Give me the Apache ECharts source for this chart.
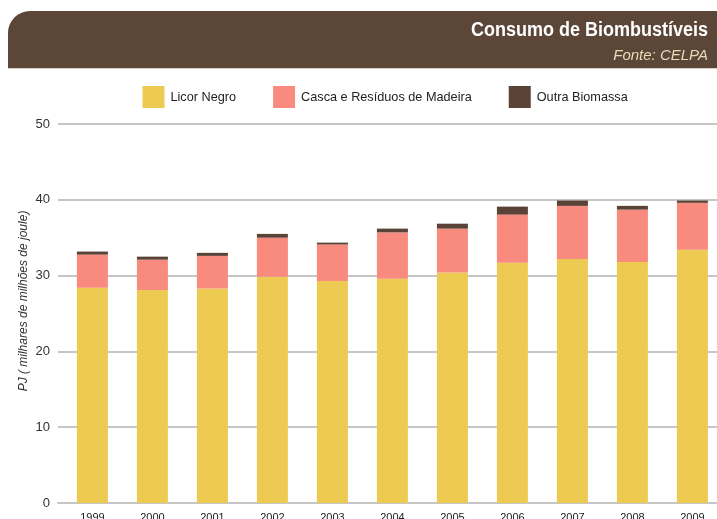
<!DOCTYPE html>
<html>
<head>
<meta charset="utf-8">
<script src="https://cdn.jsdelivr.net/npm/echarts@6/dist/echarts.min.js"></script>
<style>
  html, body { margin: 0; padding: 0; background: #ffffff; }
  #chart { width: 717px; height: 519px; }
</style>
</head>
<body>
<div id="chart"></div>
<script>
// Consumo de biombustíveis por ano (PJ)
var anos = ['1999', '2000', '2001', '2002', '2003', '2004', '2005', '2006', '2007', '2008', '2009'];
var licorNegro = [28.4, 28.1, 28.3, 29.85, 29.3, 29.6, 30.4, 31.7, 32.2, 31.8, 33.4];
var cascaResiduos = [4.37, 4.0, 4.3, 5.15, 4.8, 6.1, 5.8, 6.35, 7.0, 6.9, 6.2];
var outraBiomassa = [0.4, 0.4, 0.4, 0.5, 0.25, 0.5, 0.65, 1.05, 0.7, 0.5, 0.3];
var yTicks = { min: 0, max: 50, interval: 10 };

var nomes = ['Licor Negro', 'Casca e Resíduos de Madeira', 'Outra Biomassa'];
var cores = ['#EDCA52', '#F88A7E', '#5A4336'];
var fonte = '"Liberation Sans", Arial, sans-serif';

var chart = echarts.init(document.getElementById('chart'), null, { renderer: 'canvas' });

var plotTop = 124;
var plotBottom = 16;

chart.setOption({
  animation: false,
  textStyle: { fontFamily: fonte },
  graphic: [
    {
      type: 'rect',
      shape: { x: 8, y: 11, width: 720, height: 57, r: [22, 0, 0, 0] },
      style: { fill: '#5B4638' }
    },
    {
      type: 'rect',
      shape: { x: 8, y: 68, width: 720, height: 1 },
      style: { fill: '#d4cfcb' }
    },
    {
      // título em negrito, ligeiramente condensado
      type: 'text',
      x: 708,
      y: 30,
      scaleX: 0.9,
      style: {
        text: 'Consumo de Biombustíveis',
        fill: '#ffffff',
        align: 'right',
        verticalAlign: 'middle',
        font: 'bold 20px ' + fonte
      }
    },
    {
      type: 'text',
      x: 708,
      y: 56,
      style: {
        text: 'Fonte: CELPA',
        fill: '#EADBB8',
        align: 'right',
        verticalAlign: 'middle',
        font: 'italic 15px ' + fonte
      }
    },
    {
      // título do eixo vertical
      type: 'text',
      x: 24,
      y: 301,
      rotation: Math.PI / 2,
      style: {
        text: 'PJ ( milhares de milhões de joule)',
        fill: '#333',
        align: 'center',
        verticalAlign: 'middle',
        font: 'italic 12px ' + fonte
      }
    }
  ],
  legend: {
    top: 86,
    left: 142.5,
    padding: 0,
    itemWidth: 22,
    itemHeight: 22,
    itemGap: 37,
    icon: 'rect',
    data: nomes,
    textStyle: { fontSize: 12.7, color: '#222', fontFamily: fonte, padding: [0, 0, 0, 1] }
  },
  grid: [
    { left: 58, right: 0, top: plotTop, bottom: plotBottom, outerBoundsMode: 'none', containLabel: false },
    { left: 62.4, width: 660, top: plotTop, bottom: plotBottom, outerBoundsMode: 'none', containLabel: false }
  ],
  xAxis: [
    {
      gridIndex: 0,
      type: 'category',
      data: anos,
      axisLine: { show: true, lineStyle: { color: '#c6c6c6', width: 2 } },
      axisTick: { show: false },
      axisLabel: { show: false },
      splitLine: { show: false }
    },
    {
      gridIndex: 1,
      type: 'category',
      data: anos,
      axisLine: { show: false },
      axisTick: { show: false },
      axisLabel: { show: true, fontSize: 11, color: '#222', margin: 9, fontFamily: fonte }
    }
  ],
  yAxis: [
    {
      gridIndex: 0,
      type: 'value',
      min: yTicks.min,
      max: yTicks.max,
      interval: yTicks.interval,
      axisLine: { show: false },
      axisTick: { show: false },
      axisLabel: { fontSize: 13, color: '#333', margin: 8, fontFamily: fonte },
      splitLine: { show: true, lineStyle: { color: '#b3b3b3', width: 1.5 } }
    },
    {
      gridIndex: 1,
      type: 'value',
      min: yTicks.min,
      max: yTicks.max,
      interval: yTicks.interval,
      show: false,
      splitLine: { show: false }
    }
  ],
  series: [
    { name: nomes[0], type: 'bar', stack: 'total', xAxisIndex: 1, yAxisIndex: 1, barWidth: 31, data: licorNegro, itemStyle: { color: cores[0] } },
    { name: nomes[1], type: 'bar', stack: 'total', xAxisIndex: 1, yAxisIndex: 1, barWidth: 31, data: cascaResiduos, itemStyle: { color: cores[1] } },
    { name: nomes[2], type: 'bar', stack: 'total', xAxisIndex: 1, yAxisIndex: 1, barWidth: 31, data: outraBiomassa, itemStyle: { color: cores[2] } }
  ]
});
</script>
</body>
</html>
